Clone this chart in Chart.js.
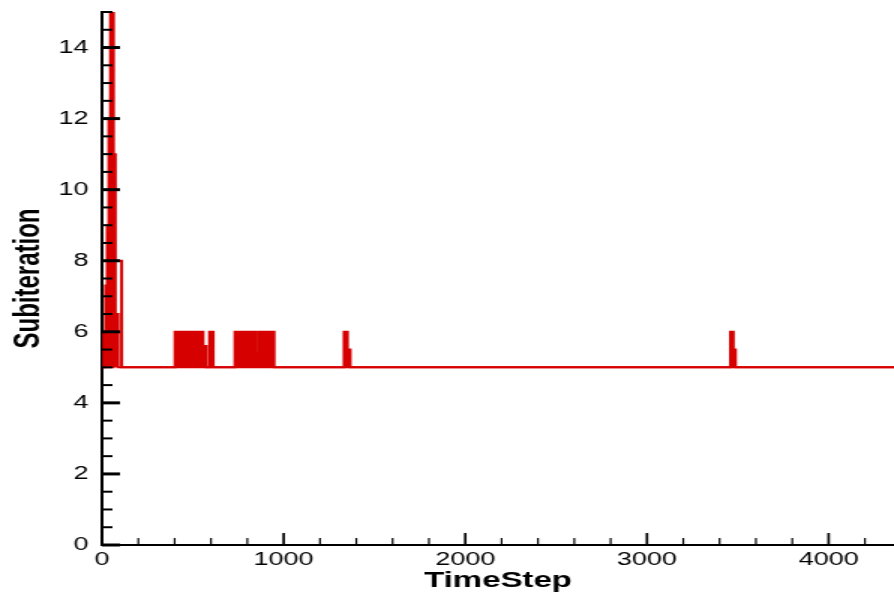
<!DOCTYPE html>
<html>
<head>
<meta charset="utf-8">
<title>Subiteration per TimeStep</title>
<script src="https://cdn.jsdelivr.net/npm/chart.js@4/dist/chart.umd.min.js"></script>
<style>
    html, body { margin: 0; padding: 0; background: #fff; }
</style>
</head>
<body>
<!-- the original plot is stretched sideways, so the canvas is drawn narrow and shown wide -->
<canvas id="chart" width="596" height="598" style="display:block;width:894px;height:598px"></canvas>
<script>
// Dense 5/6 oscillation, kept as its envelope (filled down to 5)
const bandSteps  = [0, 10, 20, 29, 38, 47, 63, 73, 88, 402, 424, 433, 443, 457, 556, 573, 592, 612, 732, 848, 865, 947, 1333, 1351, 1366, 3460, 3475, 3487, 4360];
const bandValues = [5, 6, 7.3, 9, 12, 16, 11, 6.5, 5, 6, 5.5, 6, 5.5, 6, 5.6, 5, 6, 5, 6, 5.4, 6, 5, 6, 5.5, 5, 6, 5.5, 5, 5];

// Plain trace: baseline and the plateau at 8
const lineSteps  = [0, 62, 108, 4360];
const lineValues = [5, 8, 5, 5];

// Axis ticks
const xTickLabels = [0, 1000, 2000, 3000, 4000];
const yTickLabels = [0, 2, 4, 6, 8, 10, 12, 14];
const xMax = 4360;
const yMax = 15;
const xMinorStep = 200;
const yMinorStep = 0.5;

const red = '#d60000';
const fontFamily = "'Liberation Sans', Arial, Helvetica, sans-serif";

function toPoints(steps, values) {
    return steps.map((t, i) => ({ x: t, y: values[i] }));
}

// Tecplot-style ticks pointing into the plot
const inwardTicks = {
    id: 'inwardTicks',
    afterDatasetsDraw(chart) {
        const { ctx, chartArea, scales: { x, y } } = chart;
        ctx.save();
        ctx.strokeStyle = '#000';

        for (let i = 0; i * xMinorStep <= xMax; i++) {
            const v = i * xMinorStep;
            const px = x.getPixelForValue(v);
            const major = xTickLabels.includes(v);
            ctx.lineWidth = major ? 1.7 : 1.2;
            ctx.beginPath();
            ctx.moveTo(px, chartArea.bottom);
            ctx.lineTo(px, chartArea.bottom - (major ? 12 : 7));
            ctx.stroke();
        }

        for (let i = 0; i * yMinorStep <= yMax + 1e-9; i++) {
            const v = i * yMinorStep;
            const py = y.getPixelForValue(v);
            const major = yTickLabels.includes(v);
            ctx.lineWidth = major ? 3 : 2;
            ctx.beginPath();
            ctx.moveTo(chartArea.left, py);
            ctx.lineTo(chartArea.left + (major ? 12 : 7), py);
            ctx.stroke();
        }
        ctx.restore();
    }
};

new Chart(document.getElementById('chart'), {
    type: 'line',
    data: {
        datasets: [
            {
                data: toPoints(bandSteps, bandValues),
                stepped: true,
                borderColor: red,
                backgroundColor: red,
                borderWidth: 2,
                pointRadius: 0,
                fill: { value: 5 }
            },
            {
                data: toPoints(lineSteps, lineValues),
                stepped: true,
                borderColor: red,
                borderWidth: 2,
                pointRadius: 0,
                fill: false
            }
        ]
    },
    options: {
        responsive: false,
        devicePixelRatio: 1,
        animation: false,
        layout: { padding: { top: 12, right: 0, bottom: 0, left: 0 } },
        plugins: {
            legend: { display: false },
            tooltip: { enabled: false }
        },
        scales: {
            x: {
                type: 'linear',
                min: 0,
                max: xMax,
                grid: { display: false, drawTicks: false },
                border: { display: true, color: '#000', width: 2 },
                afterFit: scale => {
                    scale.height = 53;
                    scale.paddingLeft = 0;
                    scale.paddingRight = 0;
                },
                afterBuildTicks: scale => { scale.ticks = xTickLabels.map(v => ({ value: v })); },
                ticks: {
                    color: '#000',
                    padding: 4,
                    maxRotation: 0,
                    autoSkip: false,
                    callback: v => String(v),
                    font: { family: fontFamily, size: 18 }
                },
                title: {
                    display: true,
                    text: 'TimeStep',
                    color: '#000',
                    padding: { top: 0, bottom: 4 },
                    font: { family: fontFamily, size: 22, weight: 'bold' }
                }
            },
            y: {
                min: 0,
                max: yMax,
                grid: { display: false, drawTicks: false },
                border: { display: true, color: '#000', width: 2 },
                afterFit: scale => {
                    scale.width = 68;
                    scale.paddingTop = 0;
                    scale.paddingBottom = 0;
                },
                afterBuildTicks: scale => { scale.ticks = yTickLabels.map(v => ({ value: v })); },
                ticks: {
                    color: '#000',
                    padding: 9,
                    callback: v => String(v),
                    font: { family: fontFamily, size: 18 }
                },
                title: {
                    display: true,
                    text: 'Subiteration',
                    color: '#000',
                    padding: { top: 5, bottom: 0 },
                    font: { family: fontFamily, size: 24, weight: 'bold' }
                }
            }
        }
    },
    plugins: [inwardTicks]
});
</script>
</body>
</html>
